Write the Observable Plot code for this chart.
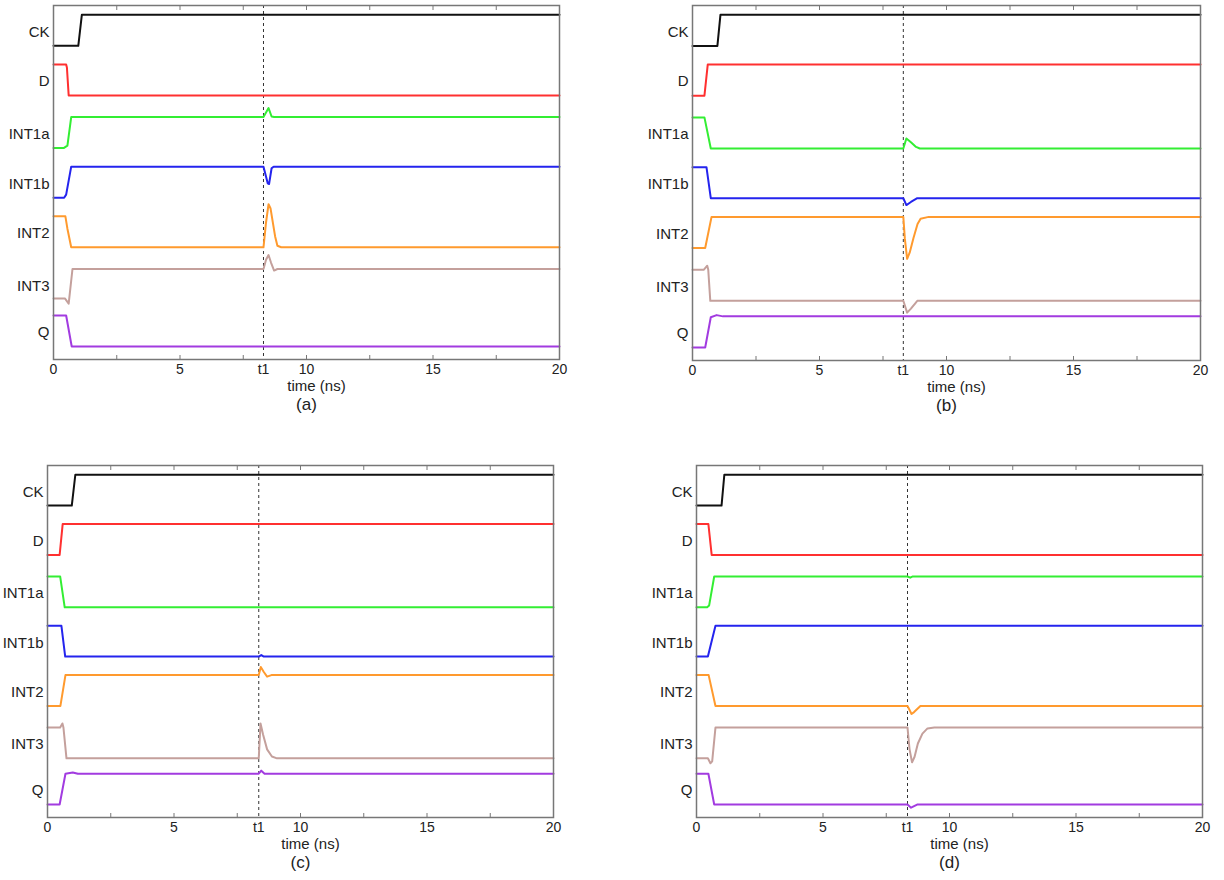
<!DOCTYPE html>
<html>
<head>
<meta charset="utf-8">
<script src="https://cdn.jsdelivr.net/npm/d3@7"></script>
<script src="https://cdn.jsdelivr.net/npm/@observablehq/plot@0.6"></script>
<style>
  body { margin: 0; background: #fff; }
  #root { position: relative; width: 1224px; height: 880px; overflow: hidden; background: #fff; }
  #root > div { position: absolute; }
</style>
</head>
<body>
<div id="root"></div>
<script>
// ---------- data ----------
const signals = ["CK", "D", "INT1a", "INT1b", "INT2", "INT3", "Q"];
const baselines = [9.7, 8.1, 6.4, 4.8, 3.2, 1.5, 0];   // trace offsets (1 unit = logic swing)
const colors = ["#111111", "#ff3030", "#33ee33", "#2424ee", "#ff9a2e", "#c4a09c", "#a23be0"];
const xTicksMinor = [0, 2.5, 5, 7.5, 10, 12.5, 15, 17.5, 20];
const xTickLabels = ["0", "5", "t1", "10", "15", "20"];
const panelNames = ["(a)", "(b)", "(c)", "(d)"];
const t1Values = [8.3, 8.3, 8.35, 8.34];

// waveforms: [time (ns), level] per signal, order as in `signals`
const waveA = [
  [[0,0],[0.98,0],[1.12,1],[20,1]],
  [[0,1],[0.5,1],[0.53,0.9],[0.6,0],[20,0]],
  [[0,0],[0.4,0],[0.55,0.08],[0.7,1],[8.3,1],[8.5,1.29],[8.62,1.02],[8.72,1],[20,1]],
  [[0,0],[0.42,0],[0.5,0.1],[0.7,1],[8.3,1],[8.47,0.46],[8.52,0.44],[8.62,0.95],[8.7,1],[20,1]],
  [[0,1],[0.47,1],[0.55,0.6],[0.7,0],[8.3,0],[8.4,0.8],[8.5,1.39],[8.58,1.25],[8.68,0.75],[8.76,0.35],[8.85,0.05],[9.0,0],[20,0]],
  [[0,0.05],[0.45,0.05],[0.6,-0.12],[0.75,1],[8.3,1],[8.4,1.3],[8.5,1.45],[8.6,1.2],[8.72,0.95],[8.85,1],[20,1]],
  [[0,1],[0.5,1],[0.72,0],[20,0]]
];
const waveB = [
  [[0,0],[0.98,0],[1.1,1],[20,1]],
  [[0,0],[0.47,0],[0.6,1],[20,1]],
  [[0,1],[0.47,1],[0.72,0],[8.3,0],[8.42,0.32],[8.6,0.2],[8.8,0.05],[8.95,0],[20,0]],
  [[0,1],[0.55,1],[0.72,0],[8.3,0],[8.42,-0.22],[8.6,-0.12],[8.85,0],[20,0]],
  [[0,0],[0.5,0],[0.75,1],[8.3,1],[8.36,0.3],[8.45,-0.35],[8.55,-0.15],[8.7,0.32],[8.86,0.77],[8.98,0.94],[9.3,1],[20,1]],
  [[0,1],[0.45,1],[0.58,1.13],[0.62,1],[0.7,0],[8.3,0],[8.45,-0.38],[8.6,-0.25],[8.85,0],[20,0]],
  [[0,0],[0.5,0],[0.72,0.97],[0.95,1.04],[1.2,1],[20,1]]
];
const waveC = [
  [[0,0],[0.96,0],[1.1,1],[20,1]],
  [[0,0],[0.48,0],[0.6,1],[20,1]],
  [[0,1],[0.5,1],[0.68,0],[20,0]],
  [[0,1],[0.55,1],[0.7,0],[8.35,0],[8.45,0.05],[8.55,0],[20,0]],
  [[0,0],[0.51,0],[0.71,1],[8.35,1],[8.43,1.26],[8.55,1.1],[8.68,0.95],[8.85,1],[20,1]],
  [[0,1],[0.5,1],[0.59,1.13],[0.63,1],[0.75,0],[8.35,0],[8.42,1.13],[8.52,0.77],[8.68,0.29],[8.87,0.06],[9.07,0],[20,0]],
  [[0,0],[0.48,0],[0.71,1],[1.0,1.04],[1.2,1],[8.35,1],[8.45,1.1],[8.58,1],[20,1]]
];
const waveD = [
  [[0,0],[0.99,0],[1.1,1],[20,1]],
  [[0,1],[0.47,1],[0.6,0],[20,0]],
  [[0,0],[0.42,0],[0.5,0.06],[0.7,1],[8.34,1],[8.45,0.96],[8.55,1],[20,1]],
  [[0,0],[0.45,0],[0.75,1],[20,1]],
  [[0,1],[0.48,1],[0.75,0],[8.34,0],[8.5,-0.26],[8.6,-0.2],[8.85,0],[20,0]],
  [[0,0],[0.45,0],[0.55,-0.16],[0.62,-0.1],[0.75,1],[8.34,1],[8.42,0.3],[8.52,-0.13],[8.62,0.05],[8.75,0.48],[8.93,0.8],[9.13,0.97],[9.4,1],[20,1]],
  [[0,1],[0.47,1],[0.7,0],[8.34,0],[8.48,-0.1],[8.6,-0.05],[8.72,0],[20,0]]
];
const waves = [waveA, waveB, waveC, waveD];

// ---------- layout (pixels) ----------
const layout = [
  {left: 0,   top: 0,   ml: 53, fw: 506, fh: 354},
  {left: 639, top: 0,   ml: 53, fw: 508, fh: 355},
  {left: 0,   top: 460, ml: 47, fw: 506, fh: 352},
  {left: 643, top: 460, ml: 53, fw: 506, fh: 352}
];

function makePanel(k) {
  const L = layout[k];
  const t1 = t1Values[k];
  const rows = [];
  waves[k].forEach((pts, i) => {
    pts.forEach(([t, v]) => rows.push({signal: signals[i], t, y: baselines[i] + v}));
  });
  const labelTicks = [0, 5, t1, 10, 15, 20];
  const labelMap = new Map(labelTicks.map((v, i) => [v, xTickLabels[i]]));
  const yLabelPos = baselines.map(b => b + 0.45);
  const yLabelMap = new Map(yLabelPos.map((v, i) => [v, signals[i]]));
  const marginBottom = 62, marginTop = 5, marginRight = 10;
  const plot = Plot.plot({
    width: L.ml + L.fw + marginRight,
    height: marginTop + L.fh + marginBottom,
    marginLeft: L.ml, marginRight, marginTop, marginBottom,
    style: {fontFamily: "'Liberation Sans', Arial, sans-serif", color: "#222", background: "#fff", overflow: "visible"},
    x: {domain: [0, 20]},
    y: {domain: [-0.42, 11.0]},
    color: {domain: signals, range: colors},
    marks: [
      Plot.ruleX([t1], {stroke: "#333", strokeWidth: 1, strokeDasharray: "3,3"}),
      Plot.line(rows, {x: "t", y: "y", z: "signal", stroke: "signal", strokeWidth: 2, curve: "linear"}),
      Plot.frame({stroke: "#777", strokeWidth: 1.5}),
      Plot.axisX({anchor: "bottom", ticks: xTicksMinor, tickSize: -4, tickFormat: () => "", stroke: "#777", label: null}),
      Plot.axisX({anchor: "top", ticks: xTicksMinor, tickSize: -4, tickFormat: () => "", stroke: "#777", label: null}),
      Plot.axisX({anchor: "bottom", ticks: labelTicks, tickSize: 0, tickPadding: 5, tickFormat: d => labelMap.get(d), fontSize: 14, label: null}),
      Plot.axisY({anchor: "left", ticks: yLabelPos, tickSize: 0, tickPadding: 4, tickFormat: d => yLabelMap.get(d), fontSize: 15, label: null}),
      Plot.text(["time (ns)"], {frameAnchor: "bottom", dy: 31, dx: 10, fontSize: 15, fill: "#222"}),
      Plot.text([panelNames[k]], {frameAnchor: "bottom", dy: 50, fontSize: 17, fill: "#222"})
    ]
  });
  const wrap = document.createElement("div");
  wrap.style.left = L.left + "px";
  wrap.style.top = L.top + "px";
  wrap.appendChild(plot);
  document.getElementById("root").appendChild(wrap);
}

[0, 1, 2, 3].forEach(makePanel);
</script>
</body>
</html>
